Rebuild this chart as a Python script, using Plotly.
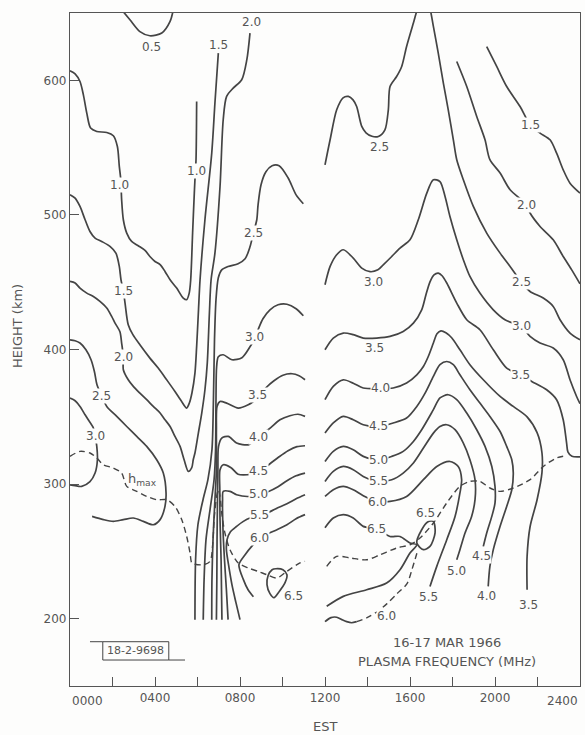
import plotly.graph_objects as go

# ---------------------------------------------------------------
# Plasma-frequency isolines (MHz), 16-17 Mar 1966.
# x: local time EST in hours, y: height in km.
# ---------------------------------------------------------------

# ---- morning / midday block (0000 - 1100 EST) ----
F05_H = [2.43, 2.82, 3.29, 3.76, 4.32, 4.71, 4.86]
F05_KM = [652.4, 645.0, 636.2, 633.1, 635.1, 643.7, 652.4]

F10_H = [0.0, 0.24, 0.47, 0.63, 0.79, 0.97, 1.26, 1.73, 2.04, 2.23, 2.32, 2.39, 2.43,
         2.51, 2.67, 2.90, 3.21, 3.53, 3.76, 4.00, 4.24, 4.47, 4.71, 5.02, 5.33, 5.49,
         5.61, 5.68, 5.77, 5.85, 5.88, 5.93, 5.96]
F10_KM = [607.1, 604.8, 599.1, 589.2, 575.6, 564.5, 562.0, 561.2, 558.8, 550.8, 536.0,
          526.1, 511.2, 496.4, 486.5, 480.3, 477.1, 473.6, 469.1, 465.4, 463.0, 458.0,
          451.8, 445.6, 438.2, 437.0, 441.9, 451.8, 486.5, 516.2, 526.1, 541.0, 584.3]

F15_H = [0.0, 0.24, 0.47, 0.71, 0.94, 1.18, 1.49, 1.88, 2.16, 2.32, 2.40, 2.51, 2.59,
         2.74, 2.96, 3.29, 3.76, 4.15, 4.55, 4.94, 5.26, 5.49, 5.62, 5.74, 5.88, 5.96,
         6.04, 6.12, 6.35, 6.67, 6.82, 6.98]
F15_KM = [515.0, 512.5, 506.3, 496.4, 487.7, 482.8, 480.3, 476.6, 471.6, 461.7, 451.8,
          443.6, 434.5, 418.4, 411.0, 403.5, 393.6, 386.2, 377.5, 368.8, 361.2, 356.5,
          360.4, 367.9, 382.5, 402.3, 427.1, 451.8, 496.4, 545.9, 583.1, 620.2]

F20_H = [0.0, 0.24, 0.47, 0.79, 1.10, 1.41, 1.73, 1.96, 2.12, 2.35, 2.43, 2.51, 2.51,
         2.74, 2.98, 3.29, 3.61, 3.92, 4.24, 4.47, 4.71, 4.94, 5.18, 5.37, 5.57, 5.73,
         5.80, 5.88, 6.04, 6.20, 6.35, 6.46, 6.56, 6.64, 6.82, 7.06, 7.21, 7.37, 7.68,
         8.08, 8.32, 8.47]
F20_KM = [450.6, 449.4, 445.6, 441.9, 439.4, 435.7, 430.8, 424.6, 419.6, 413.2, 404.8,
          394.4, 385.0, 377.5, 372.6, 367.6, 362.7, 357.7, 352.8, 347.8, 342.8, 335.4,
          328.0, 318.1, 309.4, 312.2, 318.1, 323.1, 337.9, 352.8, 370.1, 389.9, 427.1,
          451.8, 471.6, 521.1, 570.7, 588.0, 594.2, 600.4, 615.2, 635.1]

F25A_H = [0.0, 0.24, 0.47, 0.75, 0.99, 1.15, 1.27, 1.49, 1.73, 2.20, 2.67, 3.14, 3.61,
          4.08, 4.39, 4.52, 4.47, 4.24, 3.92, 3.45, 2.98, 2.51, 2.04, 1.57, 1.04]
F25A_KM = [407.2, 406.5, 404.8, 399.8, 392.4, 383.5, 373.8, 365.6, 357.7, 350.3, 342.8,
           335.4, 328.0, 318.1, 308.2, 293.4, 283.4, 273.6, 269.8, 272.3, 274.8, 273.6,
           272.3, 273.6, 276.0]

F30A_H = [0.0, 0.24, 0.47, 0.71, 0.86, 1.10, 1.18, 1.26, 1.29, 1.18, 0.94, 0.55, 0.24, 0.0]
F30A_KM = [363.9, 361.9, 357.7, 351.5, 347.8, 341.7, 335.9, 328.0, 318.1, 308.2, 301.8,
           298.3, 298.8, 299.5]

F25B_H = [10.98, 10.64, 10.26, 9.84, 9.51, 9.22, 8.99, 8.85, 8.79, 8.63, 8.47, 8.24, 7.91,
          7.44, 7.14, 6.98, 6.87, 6.80, 6.75, 6.68, 6.49, 6.26, 6.02, 5.91, 5.88]
F25B_KM = [508.3, 514.9, 527.6, 536.5, 536.5, 532.0, 522.4, 507.5, 496.4, 486.5, 476.3,
           467.4, 463.7, 461.7, 459.2, 453.3, 437.0, 407.2, 362.7, 325.5, 303.3, 288.4,
           269.8, 243.8, 199.3]

F30B_H = [10.98, 10.64, 10.21, 9.79, 9.41, 9.08, 8.85, 8.66, 8.47, 8.09, 7.62, 7.21, 6.98,
          6.90, 6.87, 6.85, 6.78, 6.59, 6.40, 6.31, 6.27]
F30B_KM = [425.1, 430.3, 433.6, 433.2, 429.5, 422.8, 414.7, 407.2, 402.0, 393.9, 392.4,
           396.1, 394.6, 387.2, 362.7, 325.5, 303.3, 281.0, 258.7, 229.0, 199.3]

F35A_H = [11.06, 10.78, 10.45, 10.02, 9.60, 9.22, 8.89, 8.61, 8.39, 7.92, 7.37, 7.06, 6.92,
          6.89, 6.89, 6.82, 6.73, 6.68, 6.67]
F35A_KM = [377.5, 380.5, 382.0, 380.9, 376.8, 371.6, 365.6, 361.2, 359.0, 356.5, 360.2,
           361.4, 357.7, 340.4, 310.7, 288.4, 258.7, 229.0, 199.3]

F40A_H = [11.06, 10.73, 10.35, 9.88, 9.46, 9.08, 8.75, 8.39, 7.84, 7.45, 7.14, 6.99, 6.96,
          6.94, 6.92, 6.91, 6.89]
F40A_KM = [350.3, 351.9, 350.8, 347.8, 342.2, 337.4, 333.0, 329.2, 330.5, 335.4, 334.2,
           328.0, 310.7, 288.4, 258.7, 229.0, 199.3]

F45A_H = [11.06, 10.68, 10.26, 9.84, 9.41, 9.04, 8.71, 8.39, 7.91, 7.58, 7.21, 7.06, 7.05,
          7.06, 7.11, 7.13, 7.15]
F45A_KM = [328.5, 327.8, 324.8, 320.3, 315.1, 310.7, 307.7, 307.0, 307.3, 312.2, 314.4,
           310.7, 295.8, 273.5, 243.8, 221.5, 199.3]

F50A_H = [11.06, 10.64, 10.21, 9.79, 9.32, 8.89, 8.39, 7.84, 7.53, 7.21, 7.18, 7.20, 7.27,
          7.36, 7.44]
F50A_KM = [308.2, 306.2, 302.5, 298.0, 294.3, 292.5, 290.8, 292.1, 294.6, 294.6, 288.4,
           266.1, 243.8, 221.5, 199.3]

F55A_H = [11.06, 10.64, 10.21, 9.69, 9.22, 8.85, 8.47, 8.14, 7.84, 7.55, 7.39, 7.36, 7.46,
          7.62, 7.81, 8.00]
F55A_KM = [292.1, 289.1, 285.4, 281.7, 278.0, 275.8, 274.8, 272.1, 268.6, 264.6, 258.7,
           251.3, 240.1, 225.3, 211.9, 199.3]

F60A_H = [11.06, 10.64, 10.21, 9.74, 9.32, 8.94, 8.55, 8.24, 7.95, 8.16, 8.38, 8.63]
F60A_KM = [277.3, 274.3, 269.8, 266.1, 263.1, 259.9, 253.7, 247.5, 240.1, 229.0, 221.5, 216.3]

F65A_H = [9.69, 10.02, 10.21, 10.12, 9.84, 9.60, 9.41, 9.27, 9.32, 9.51, 9.69]
F65A_KM = [237.1, 236.4, 232.7, 226.8, 220.1, 215.6, 218.6, 225.3, 231.9, 236.4, 237.1]

HMAX_A_H = [0.0, 0.47, 0.94, 1.26, 1.57, 2.04, 2.43, 2.67, 3.14, 3.61, 4.08, 4.55, 4.94,
            5.26, 5.49, 5.65, 5.73, 5.88, 6.27, 6.59, 6.72, 6.78, 6.90, 6.98, 7.06, 7.14,
            7.29, 7.53, 7.92, 8.39, 8.86, 9.26, 9.73, 10.20, 10.82, 11.06]
HMAX_A_KM = [320.6, 324.3, 323.1, 319.4, 314.4, 311.9, 308.2, 298.3, 294.6, 290.9, 288.4,
             288.4, 283.4, 273.5, 261.2, 248.8, 241.4, 240.5, 240.1, 242.6, 256.2, 273.5,
             290.9, 295.8, 290.9, 278.5, 263.7, 251.3, 241.4, 237.7, 235.1, 232.7, 230.2,
             235.1, 241.4, 242.6]

# ---- afternoon / evening block (1200 - 2400 EST) ----
G15_H = [19.61, 20.08, 20.55, 21.18, 21.65, 22.12, 22.59, 22.90, 23.21, 23.53, 24.0]
G15_KM = [625.1, 610.3, 595.4, 580.5, 567.0, 560.8, 555.8, 545.9, 533.5, 523.6, 516.2]

G20_H = [18.20, 18.67, 19.14, 19.53, 19.76, 20.24, 20.71, 21.49, 21.65, 22.12, 22.74,
         23.21, 23.61, 24.0]
G20_KM = [614.0, 595.4, 573.1, 555.8, 541.0, 531.1, 518.7, 507.5, 501.4, 491.4, 481.5,
          469.1, 459.2, 448.8]

G25_H = [12.00, 12.24, 12.55, 12.85, 13.10, 13.32, 13.49, 13.73, 13.93, 14.21, 14.51,
         14.82, 14.98, 15.06, 15.37, 15.61, 15.84, 16.16, 16.42, 16.66, 16.89, 17.10,
         17.33, 17.57, 17.80, 18.04, 18.20, 18.51, 18.98, 19.61, 20.24, 20.71, 21.26,
         21.65, 22.27, 22.74, 23.06, 23.53, 24.0]
G25_KM = [537.2, 555.8, 578.1, 587.0, 588.0, 585.5, 580.5, 565.7, 561.0, 558.4, 558.3,
          563.2, 578.1, 595.4, 602.8, 610.3, 625.1, 642.5, 656.1, 661.3, 656.1, 640.0,
          620.2, 597.9, 578.1, 555.8, 541.0, 526.1, 506.3, 486.5, 471.6, 461.7, 449.8,
          443.1, 438.2, 432.0, 422.1, 412.2, 407.2]

G30_H = [12.00, 12.24, 12.55, 12.86, 13.33, 13.73, 14.12, 14.49, 14.74, 15.14, 15.53,
         16.0, 16.39, 16.79, 17.10, 17.41, 17.65, 17.88, 18.20, 18.51, 18.82, 19.29,
         19.92, 20.47, 21.26, 21.65, 22.12, 22.74, 23.21, 23.53, 23.84, 24.0]
G30_KM = [448.1, 461.7, 470.4, 474.1, 467.9, 460.5, 457.8, 459.2, 462.9, 469.1, 475.4,
          481.5, 496.4, 516.2, 526.1, 524.8, 513.7, 498.8, 481.5, 466.7, 454.3, 441.9,
          429.5, 422.1, 416.7, 409.7, 404.8, 401.1, 392.4, 377.5, 365.1, 359.7]

G35_H = [12.0, 12.39, 12.86, 13.33, 13.80, 14.43, 15.06, 15.68, 16.16, 16.55, 16.75, 16.94,
         17.13, 17.33, 17.51, 17.73, 18.20, 18.67, 19.29, 19.92, 20.55, 21.18, 21.73,
         22.43, 22.90, 23.21, 23.37, 23.43, 23.62, 24.0]
G35_KM = [399.8, 408.5, 412.2, 411.0, 408.5, 408.5, 409.7, 413.4, 419.6, 429.5, 440.7,
          450.3, 455.5, 456.8, 454.8, 449.4, 434.5, 422.1, 414.7, 399.8, 386.2, 381.2,
          376.3, 370.1, 362.7, 347.8, 330.5, 324.0, 320.7, 320.3]

G40_H = [12.0, 12.39, 12.86, 13.33, 13.80, 14.59, 15.21, 15.84, 16.32, 16.63, 16.86, 17.10,
         17.27, 17.46, 17.69, 17.96, 18.35, 18.82, 19.45, 20.24, 20.86, 21.51, 21.98,
         22.21, 22.21, 21.98, 21.65, 21.51, 21.51]
G40_KM = [362.7, 372.6, 377.5, 374.9, 371.4, 370.9, 371.4, 375.1, 381.2, 387.4, 394.8,
          404.8, 411.7, 413.9, 412.4, 408.7, 399.8, 388.7, 377.5, 365.1, 357.7, 350.0,
          338.2, 323.3, 308.5, 288.4, 268.3, 246.1, 221.5]

G45_H = [12.0, 12.39, 12.86, 13.33, 13.80, 14.51, 15.21, 15.84, 16.32, 16.71, 17.10, 17.41,
         17.73, 18.04, 18.35, 18.82, 19.29, 19.76, 20.24, 20.55, 20.79, 20.86, 20.79,
         20.55, 20.24, 19.92, 19.76, 19.68]
G45_KM = [337.9, 345.4, 350.3, 347.8, 344.1, 342.8, 345.4, 349.1, 357.7, 367.6, 380.0,
          388.7, 391.1, 388.7, 381.2, 370.1, 360.2, 350.3, 339.1, 328.0, 318.1, 308.2,
          295.8, 283.4, 268.6, 251.3, 238.9, 224.0]

G50_H = [12.0, 12.39, 12.86, 13.33, 13.80, 14.51, 15.14, 15.68, 16.16, 16.55, 17.10, 17.41,
         17.80, 18.20, 18.67, 19.14, 19.53, 19.85, 20.0, 20.0, 19.85, 19.61, 19.45]
G50_KM = [316.8, 324.3, 328.0, 325.5, 320.6, 318.1, 320.6, 324.3, 331.7, 340.4, 355.3,
          364.0, 366.4, 362.7, 352.8, 340.4, 328.0, 313.1, 298.3, 285.9, 276.0, 263.7, 253.7]

G55_H = [12.0, 12.39, 12.86, 13.33, 13.80, 14.51, 15.14, 15.68, 16.16, 16.63, 17.10, 17.41,
         17.73, 18.12, 18.51, 18.82, 19.06, 19.06, 18.90, 18.59, 18.35, 18.20]
G55_KM = [302.0, 309.4, 313.1, 310.7, 305.7, 302.0, 303.2, 308.2, 315.7, 326.8, 337.9,
          342.8, 344.1, 340.4, 330.5, 318.1, 303.2, 288.4, 276.0, 263.7, 251.3, 243.8]

G60_H = [12.0, 12.39, 12.86, 13.33, 13.80, 14.49, 15.06, 15.84, 16.63, 17.26, 17.88, 18.27,
         18.43, 18.35, 18.12, 17.73, 17.26, 16.94]
G60_KM = [290.8, 295.8, 298.3, 295.8, 291.4, 286.9, 287.1, 290.8, 303.3, 313.1, 316.8,
          313.1, 303.3, 293.4, 276.0, 258.7, 238.9, 224.0]

G65A_H = [12.0, 12.39, 12.86, 13.33, 13.80, 14.43, 15.06, 15.53, 16.0, 16.32, 16.0, 15.53,
          14.90, 13.96, 12.86, 12.08]
G65A_KM = [267.6, 274.8, 277.3, 274.8, 268.6, 266.6, 261.1, 261.1, 256.2, 254.9, 248.8,
           236.4, 226.5, 221.5, 216.6, 209.2]

G65B_H = [17.10, 17.18, 16.94, 16.63, 16.32, 16.55, 16.85, 17.10]
G65B_KM = [272.3, 263.7, 253.7, 251.3, 256.2, 266.1, 272.0, 272.3]

G60B_H = [12.0, 12.28, 12.55, 12.79, 13.02, 13.25, 13.49]
G60B_KM = [197.8, 200.8, 201.1, 199.3, 197.8, 197.0, 197.8]

HMAX_B_H = [13.49, 13.98, 14.45, 14.92, 15.39, 15.86, 16.09, 16.33]
HMAX_B_KM = [197.8, 200.8, 205.2, 211.2, 218.6, 226.0, 236.4, 249.0]

HMAX_C_H = [12.08, 12.55, 13.18, 13.96, 14.59, 15.37, 16.0, 16.47, 17.10, 17.73, 18.35,
            18.82, 19.29, 19.76, 20.24, 20.86, 21.65, 22.27, 22.90, 23.37]
HMAX_C_KM = [238.9, 246.3, 245.1, 243.8, 247.5, 252.5, 254.9, 259.9, 271.1, 286.0, 298.3,
             302.0, 302.0, 297.1, 294.6, 297.1, 303.3, 313.1, 319.4, 321.1]

# ---- isoline labels (MHz value, hour, km) ----
LABEL_VAL = ["0.5", "1.0", "1.0", "1.5", "2.0", "1.5", "2.0", "2.5", "3.0",
             "2.5", "3.0", "3.5", "4.0", "4.5", "5.0", "5.5", "6.0", "6.5",
             "2.5", "3.0", "2.5", "2.0", "1.5", "3.0", "3.5",
             "3.5", "4.0", "4.5", "5.0", "5.5", "6.0", "6.5", "6.5",
             "6.0", "5.5", "5.0", "4.5", "4.0", "3.5"]
LABEL_H = [3.85, 2.35, 5.93, 6.98, 8.55, 2.51, 2.51, 1.49, 1.18,
           8.63, 8.66, 8.80, 8.85, 8.87, 8.89, 8.94, 8.94, 10.51,
           14.55, 14.27, 21.26, 21.49, 21.65, 21.26, 21.18,
           14.35, 14.59, 14.51, 14.51, 14.51, 14.49, 14.43, 16.71,
           14.90, 16.86, 18.20, 19.38, 19.61, 21.57]
LABEL_KM = [625.1, 521.9, 532.3, 626.4, 643.0, 443.6, 394.4, 365.6, 335.9,
            486.5, 409.5, 366.4, 335.2, 309.9, 292.8, 277.3, 260.2, 216.6,
            550.8, 449.8, 449.8, 507.5, 567.0, 417.6, 381.2,
            401.1, 371.4, 342.8, 318.1, 302.0, 286.9, 266.6, 278.5,
            201.7, 215.8, 235.1, 246.3, 216.6, 210.4]

X_TICKS = [4, 8, 12, 16, 20]
X_TICKTEXT = ["0400", "0800", "1200", "1600", "2000"]
Y_TICKS = [200, 300, 400, 500, 600]

# ---------------------------------------------------------------
INK = "#444444"
TEXT = "#555555"
BG = "#fdfdfc"
FONT = "DejaVu Sans"

solid = [
    (F05_H, F05_KM), (F10_H, F10_KM), (F15_H, F15_KM), (F20_H, F20_KM),
    (F25A_H, F25A_KM), (F30A_H, F30A_KM), (F25B_H, F25B_KM), (F30B_H, F30B_KM),
    (F35A_H, F35A_KM), (F40A_H, F40A_KM), (F45A_H, F45A_KM), (F50A_H, F50A_KM),
    (F55A_H, F55A_KM), (F60A_H, F60A_KM), (F65A_H, F65A_KM),
    (G15_H, G15_KM), (G20_H, G20_KM), (G25_H, G25_KM), (G30_H, G30_KM),
    (G35_H, G35_KM), (G40_H, G40_KM), (G45_H, G45_KM), (G50_H, G50_KM),
    (G55_H, G55_KM), (G60_H, G60_KM), (G65A_H, G65A_KM), (G65B_H, G65B_KM),
    (G60B_H, G60B_KM),
]
dashed = [(HMAX_A_H, HMAX_A_KM), (HMAX_B_H, HMAX_B_KM), (HMAX_C_H, HMAX_C_KM)]

fig = go.Figure()
for xs, ys in solid:
    fig.add_trace(go.Scatter(x=xs, y=ys, mode="lines", hoverinfo="skip",
                             line=dict(color=INK, width=1.7, shape="spline", smoothing=0.8)))
for xs, ys in dashed:
    fig.add_trace(go.Scatter(x=xs, y=ys, mode="lines", hoverinfo="skip",
                             line=dict(color=INK, width=1.4, dash="6px,4px",
                                       shape="spline", smoothing=0.8)))


def note(text, x, y, size=12, xref="x", yref="y", xanchor="center", yanchor="middle",
         **kw):
    fig.add_annotation(x=x, y=y, xref=xref, yref=yref, text=text, showarrow=False,
                       xanchor=xanchor, yanchor=yanchor,
                       font=dict(family=FONT, size=size, color=TEXT), **kw)


for val, h, km in zip(LABEL_VAL, LABEL_H, LABEL_KM):
    note(val, h, km, bgcolor=BG, borderpad=0)

note("h<sub>max</sub>", 3.39, 303.3, size=13)

# end labels of the time axis, kept inside the frame
note("0000", 0, 0, yref="paper", xanchor="left", yanchor="top", yshift=-6)
note("2400", 24, 0, yref="paper", xanchor="right", yanchor="top", yshift=-6)

# axis titles
note("HEIGHT (km)", -0.102, 0.535, size=13, xref="paper", yref="paper", textangle=-90)
note("EST", 0.5, -0.06, size=13, xref="paper", yref="paper")

# caption
note("16-17 MAR 1966", 0.739, 0.065, size=13, xref="paper", yref="paper")
note("PLASMA FREQUENCY (MHz)", 0.740, 0.036, size=13, xref="paper", yref="paper")

# figure number stamp
fig.add_shape(type="rect", xref="paper", yref="paper", x0=0.0643, x1=0.1937,
              y0=0.0386, y1=0.0658, line=dict(color=INK, width=1))
fig.add_shape(type="line", xref="paper", yref="paper", x0=0.0392, x1=0.0643,
              y0=0.0658, y1=0.0658, line=dict(color=INK, width=1))
fig.add_shape(type="line", xref="paper", yref="paper", x0=0.1937, x1=0.2255,
              y0=0.0386, y1=0.0386, line=dict(color=INK, width=1))
note("18-2-9698", 0.129, 0.0522, size=11, xref="paper", yref="paper")

axis_common = dict(showgrid=False, zeroline=False, showline=True, mirror=True,
                   linecolor="#555555", linewidth=1.2, ticks="inside", ticklen=9,
                   tickcolor="#555555", tickwidth=1.2,
                   tickfont=dict(family=FONT, size=12, color=TEXT))

fig.update_layout(
    width=585, height=735,
    margin=dict(l=70, r=5, t=13, b=49),
    paper_bgcolor=BG, plot_bgcolor=BG,
    showlegend=False,
    xaxis=dict(range=[0, 24], tickmode="array", tickvals=X_TICKS, ticktext=X_TICKTEXT,
               minor=dict(tick0=0, dtick=2, ticks="inside", ticklen=9,
                          tickcolor="#555555", tickwidth=1.2, showgrid=False),
               **axis_common),
    yaxis=dict(range=[150, 650], tickmode="array", tickvals=Y_TICKS, **axis_common),
)

fig.write_html("out.html")
